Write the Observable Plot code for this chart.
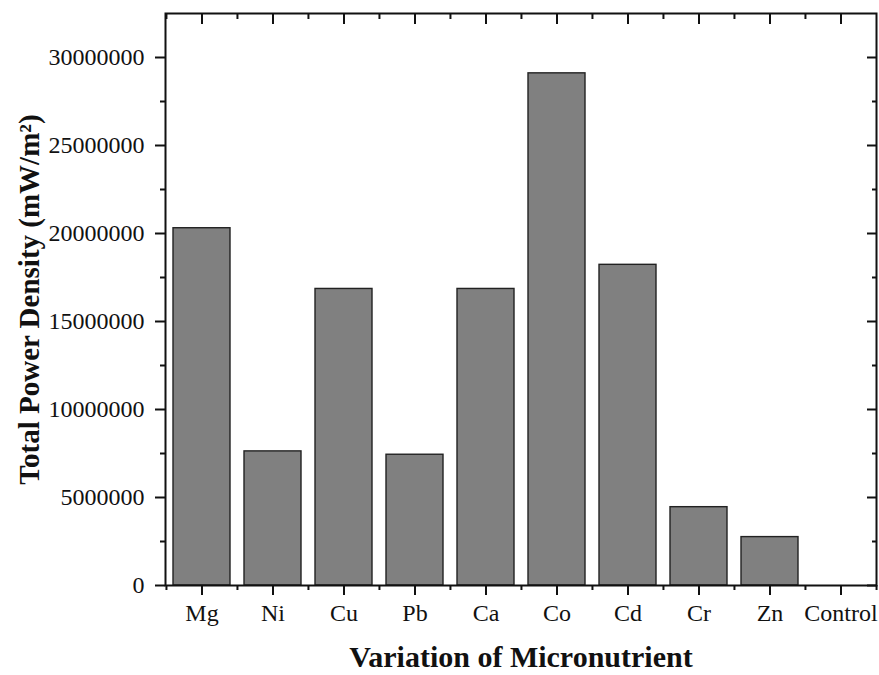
<!DOCTYPE html>
<html>
<head>
<meta charset="utf-8">
<script src="https://cdn.jsdelivr.net/npm/d3@7"></script>
<script src="https://cdn.jsdelivr.net/npm/@observablehq/plot@0.6"></script>
<style>
  html, body { margin: 0; padding: 0; background: white; }
</style>
</head>
<body>
<div id="chart"></div>
<script>
const categories = ["Mg", "Ni", "Cu", "Pb", "Ca", "Co", "Cd", "Cr", "Zn", "Control"];
const values = [20300000, 7620000, 16850000, 7430000, 16850000, 29100000, 18220000, 4450000, 2750000, 0];
const majorTicks = [0, 5000000, 10000000, 15000000, 20000000, 25000000, 30000000];
const minorTicks = [2500000, 7500000, 12500000, 17500000, 22500000, 27500000];
const xLabel = "Variation of Micronutrient";
const yLabel = "Total Power Density (mW/m²)";

const W = 879, H = 675, mL = 165, mR = 3, mT = 13, mB = 90;
const bw = (W - mL - mR) / categories.length;
const none = () => "";

const chart = Plot.plot({
  width: W, height: H,
  marginLeft: mL, marginRight: mR, marginTop: mT, marginBottom: mB,
  style: {fontFamily: "'Liberation Serif', 'Times New Roman', serif", fontSize: "24px", color: "#111", background: "white"},
  x: {domain: categories, padding: 0},
  y: {domain: [0, 32500000]},
  marks: [
    Plot.barY(categories, {x: d => d, y: (d, i) => values[i], fill: "#808080", stroke: "#222", strokeWidth: 1.4, insetLeft: 7, insetRight: 7}),
    Plot.frame({stroke: "#111", strokeWidth: 2}),
    // bottom axis
    Plot.axisX({anchor: "bottom", tickSize: 10, tickPadding: 8, fontSize: 24, strokeWidth: 2, label: null}),
    Plot.axisX(categories, {anchor: "bottom", tickSize: 5, strokeWidth: 2, dx: -bw / 2, tickFormat: none, label: null}),
    Plot.axisX([categories[categories.length - 1]], {anchor: "bottom", tickSize: 5, strokeWidth: 2, dx: bw / 2, tickFormat: none, label: null}),
    // top axis (inward ticks)
    Plot.axisX({anchor: "top", tickSize: 10, dy: 10, strokeWidth: 2, tickFormat: none, label: null}),
    Plot.axisX(categories, {anchor: "top", tickSize: 5, dy: 5, strokeWidth: 2, dx: -bw / 2, tickFormat: none, label: null}),
    // left axis
    Plot.axisY({anchor: "left", ticks: majorTicks, tickSize: 10, tickPadding: 11, fontSize: 24, strokeWidth: 2, tickFormat: d3.format("d"), label: null}),
    Plot.axisY({anchor: "left", ticks: minorTicks, tickSize: 5, strokeWidth: 2, tickFormat: none, label: null}),
    // right axis (inward ticks)
    Plot.axisY({anchor: "right", ticks: majorTicks, tickSize: 10, dx: -10, strokeWidth: 2, tickFormat: none, label: null}),
    Plot.axisY({anchor: "right", ticks: minorTicks, tickSize: 5, dx: -5, strokeWidth: 2, tickFormat: none, label: null}),
    // axis titles
    Plot.text([xLabel], {frameAnchor: "bottom", dy: 81, text: d => d, textAnchor: "middle", fontWeight: "bold", fontSize: 30, fill: "#111"}),
    Plot.text([yLabel], {frameAnchor: "left", dx: -136, rotate: -90, text: d => d, textAnchor: "middle", fontWeight: "bold", fontSize: 29, fill: "#111"})
  ]
});
document.getElementById("chart").appendChild(chart);
</script>
</body>
</html>
